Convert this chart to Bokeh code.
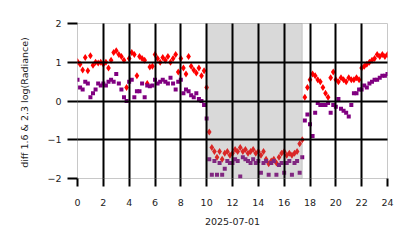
from bokeh.plotting import figure
from bokeh.models import BoxAnnotation, FixedTicker, Range1d
from bokeh.embed import file_html
from bokeh.resources import INLINE

# hours since 2025-07-01 00:00, sampled every 12 minutes
step_hours = 0.2
red_diff = [
    1.02, 0.95, 0.80, 1.12, 0.78, 1.17, 0.92, 1.00, 0.98, 1.00,
    0.95, 1.00, 0.85, 1.05, 1.25, 1.30, 1.20, 1.15, 1.05, 0.35,
    1.10, 1.25, 1.20, 0.65, 1.15, 1.10, 1.05, 0.45, 0.88, 0.90,
    1.20, 1.10, 1.00, 1.12, 1.05, 1.15, 1.00, 1.10, 1.20, 0.75,
    1.10, 0.85, 0.70, 1.15, 0.90, 0.80, 0.72, 0.85, 0.65, 0.78,
    0.35, -0.80, -1.20, -1.30, -1.45, -1.30, -1.50, -1.35, -1.30, -1.40,
    -1.35, -1.25, -1.30, -1.20, -1.30, -1.25, -1.35, -1.30, -1.25, -1.35,
    -1.30, -1.40, -1.30, -1.50, -1.62, -1.55, -1.50, -1.60, -1.45, -1.35,
    -1.30, -1.40, -1.35, -1.40, -1.35, -1.30, -1.10, -1.00, 0.10, 0.35,
    0.55, 0.70, 0.65, 0.55, 0.50, 0.35, 0.20, 0.10, 0.60, 0.75,
    0.55, 0.50, 0.60, 0.55, 0.50, 0.60, 0.55, 0.55, 0.60, 0.55,
    0.85, 0.90, 0.95, 1.00, 1.05, 1.10, 1.20, 1.15, 1.20, 1.15, 1.20,
]
purple_diff = [
    0.55, 0.35, 0.30, 0.50, 0.45, 0.10, 0.20, 0.30, 0.45, 0.40,
    0.45, 0.40, 0.50, 0.55, 0.50, 0.70, 0.45, 0.30, 0.10, 0.00,
    0.50, 0.55, 0.10, 0.25, 0.25, 0.45, 0.10, 0.40, 0.38, 0.40,
    0.55, 0.45, 0.50, 0.55, 0.50, 0.45, 0.60, 0.45, 0.30, 0.50,
    0.55, 0.20, 0.30, 0.25, 0.15, 0.10, 0.20, 0.05, 0.00, -0.10,
    -0.45, -1.50, -1.90, -1.55, -1.90, -1.60, -1.90, -1.75, -1.55, -1.60,
    -1.60, -1.50, -1.55, -1.95, -1.45, -1.50, -1.55, -1.60, -1.50, -1.60,
    -1.55, -1.85, -1.60, -1.55, -1.90, -1.60, -1.55, -1.90, -1.65, -1.60,
    -1.85, -1.60, -1.55, -1.90, -1.60, -1.55, -1.85, -1.45, -0.50, -0.35,
    -0.60, -0.90, -0.30, -0.05, -0.10, -0.10, -0.10, -0.05, -0.30, -0.10,
    -0.15, 0.05, -0.20, -0.25, -0.30, -0.40, -0.10, 0.20, 0.20, 0.30,
    0.30, 0.40, 0.35, 0.45, 0.50, 0.55, 0.55, 0.60, 0.65, 0.65, 0.70,
]
hours = [i * step_hours for i in range(len(red_diff))]
shade_start, shade_end = 10.0, 17.4
x_ticks = [0, 2, 4, 6, 8, 10, 12, 14, 16, 18, 20, 22, 24]
y_ticks = [-2, -1, 0, 1, 2]
y_tick_labels = {-2: "\u22122", -1: "\u22121", 0: "0", 1: "1", 2: "2"}
x_label = "2025-07-01"
y_label = "diff 1.6 & 2.3  log(Radiance)"

p = figure(width=414, height=248, output_backend="svg", toolbar_location=None,
           x_range=Range1d(0, 24), y_range=Range1d(-2, 2),
           min_border_left=77, min_border_right=27, min_border_top=23, min_border_bottom=70)
p.background_fill_color = "white"
p.border_fill_color = "white"
p.outline_line_color = "#c8c8c8"
p.outline_line_width = 1

p.scatter(hours, red_diff, marker="diamond", size=7, color="#ff0000", line_width=0)
p.scatter(hours, purple_diff, marker="square", size=4, color="#800080", line_width=0)

box = BoxAnnotation(left=shade_start, right=shade_end, fill_color="#808080", fill_alpha=0.3,
                    line_color="#808080", line_alpha=0.3, line_width=1)
p.add_layout(box)

for g in (p.xgrid, p.ygrid):
    g.grid_line_color = "black"
    g.grid_line_width = 2
    g.grid_line_alpha = 1.0
    g.level = "overlay"
p.xgrid.ticker = FixedTicker(ticks=x_ticks)
p.ygrid.ticker = FixedTicker(ticks=y_ticks)

p.xaxis.ticker = FixedTicker(ticks=x_ticks)
p.yaxis.ticker = FixedTicker(ticks=y_ticks)
p.yaxis.major_label_overrides = y_tick_labels
p.xaxis.axis_label = x_label
p.yaxis.axis_label = y_label

for ax in (p.xaxis, p.yaxis):
    ax.axis_line_color = None
    ax.major_tick_line_color = "black"
    ax.major_tick_line_width = 2
    ax.minor_tick_line_color = None
    ax.major_tick_in = 0
    ax.major_label_text_font = "DejaVu Sans"
    ax.major_label_text_font_size = "9.5px"
    ax.major_label_text_color = "#222222"
    ax.axis_label_text_font = "DejaVu Sans"
    ax.axis_label_text_font_size = "9.5px"
    ax.axis_label_text_font_style = "normal"
    ax.axis_label_text_color = "#222222"

p.xaxis.major_tick_out = 8
p.yaxis.major_tick_out = 10
p.xaxis.major_label_standoff = 12
p.yaxis.major_label_standoff = 6
p.xaxis.axis_label_standoff = 9
p.yaxis.axis_label_standoff = 14

open("out.html", "w").write(file_html(p, INLINE))
